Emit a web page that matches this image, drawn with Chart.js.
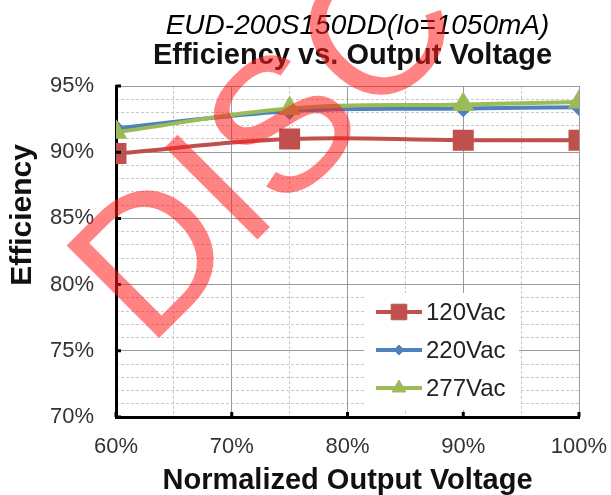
<!DOCTYPE html>
<html>
<head>
<meta charset="utf-8">
<script src="https://cdn.jsdelivr.net/npm/chart.js"></script>
<style>
  html, body { margin: 0; padding: 0; background: #fff; }
  #wrap { width: 611px; height: 495px; position: relative; }
</style>
</head>
<body>
<div id="wrap"><canvas id="chart"></canvas></div>
<script>
// --- data ---
const outputVoltage = [60, 75, 90, 100];          // % of rated output
const eff120 = [89.9, 91.0, 90.9, 90.9];
const eff220 = [91.8, 93.1, 93.3, 93.4];
const eff277 = [91.5, 93.3, 93.6, 93.8];
const seriesNames = ['120Vac', '220Vac', '277Vac'];
const titleLines = ['EUD-200S150DD(Io=1050mA)', 'Efficiency vs. Output Voltage'];
const xTitle = 'Normalized Output Voltage';
const yTitle = 'Efficiency';
const stamp = 'DISCONTINUED';

const FONT = "'Liberation Sans', Arial, sans-serif";

function pts(ys) {
    return outputVoltage.map((x, i) => ({ x: x, y: ys[i] }));
}

// chart title + axis titles
const titlePlugin = {
    id: 'titles',
    afterDraw(chart) {
        const { ctx, chartArea } = chart;
        const cx = (chartArea.left + chartArea.right) / 2;
        ctx.save();
        ctx.textAlign = 'center';
        ctx.textBaseline = 'middle';
        ctx.fillStyle = '#000';
        ctx.font = 'italic 28px ' + FONT;
        ctx.fillText(titleLines[0], cx + 10, 26);
        ctx.fillStyle = '#111';
        ctx.font = 'bold 29px ' + FONT;
        ctx.fillText(titleLines[1], cx + 5, 56);
        ctx.font = 'bold 29px ' + FONT;
        ctx.fillText(xTitle, cx, 481);
        ctx.translate(23, 215);
        ctx.rotate(-Math.PI / 2);
        ctx.font = 'bold 30px ' + FONT;
        ctx.fillText(yTitle, 0, 0);
        ctx.restore();
    }
};

// short black tick marks pointing into the plot at the major values
const innerTicks = {
    id: 'innerTicks',
    afterDatasetsDraw(chart) {
        const { ctx, chartArea, scales } = chart;
        ctx.save();
        ctx.strokeStyle = '#000';
        ctx.lineWidth = 3;
        ctx.beginPath();
        scales.x.ticks.forEach(t => {
            const px = scales.x.getPixelForValue(t.value);
            ctx.moveTo(px, chartArea.bottom);
            ctx.lineTo(px, chartArea.bottom - 5);
        });
        scales.y.ticks.forEach(t => {
            const py = scales.y.getPixelForValue(t.value);
            ctx.moveTo(chartArea.left, py);
            ctx.lineTo(chartArea.left + 5, py);
        });
        ctx.stroke();
        ctx.restore();
    }
};

// legend box inside the lower right of the plot
const legendPlugin = {
    id: 'insideLegend',
    afterDatasetsDraw(chart) {
        const { ctx, chartArea } = chart;
        const left = chartArea.right - 215;
        const top = chartArea.bottom - 124;
        ctx.save();
        ctx.fillStyle = '#fff';
        ctx.fillRect(left, top, 155, 117);
        ctx.font = '24px ' + FONT;
        ctx.textBaseline = 'middle';
        ctx.textAlign = 'left';
        seriesNames.forEach((name, i) => {
            const ds = chart.data.datasets.find(d => d.label === name);
            const y = top + 19 + i * 38;
            const x0 = left + 12, x1 = left + 58;
            ctx.strokeStyle = ds.borderColor;
            ctx.lineWidth = ds.borderWidth;
            ctx.beginPath();
            ctx.moveTo(x0, y);
            ctx.lineTo(x1, y);
            ctx.stroke();
            ctx.fillStyle = ds.pointBackgroundColor;
            ctx.lineWidth = 1;
            Chart.helpers.drawPoint(ctx, {
                pointStyle: ds.pointStyle,
                radius: ds.pointRadius - 1,
                rotation: 0,
                borderWidth: 1
            }, (x0 + x1) / 2, y);
            ctx.fillStyle = '#222';
            ctx.fillText(name, x1 + 4, y + 1);
        });
        ctx.restore();
    }
};

// the red stamp laid over the whole picture
const stampPlugin = {
    id: 'stamp',
    afterDraw(chart) {
        const { ctx } = chart;
        ctx.save();
        ctx.translate(148, 349);
        ctx.rotate(-Math.PI / 4);
        ctx.fillStyle = 'rgba(255, 30, 30, 0.55)';
        ctx.font = '190px ' + FONT;
        ctx.textBaseline = 'alphabetic';
        ctx.fillText(stamp, 0, 0);
        ctx.restore();
    }
};

new Chart(document.getElementById('chart'), {
    type: 'line',
    data: {
        datasets: [
            {
                label: seriesNames[0],
                data: pts(eff120),
                borderColor: '#C0504D',
                pointBackgroundColor: '#C0504D',
                borderWidth: 4,
                pointStyle: 'rect',
                pointRadius: 12,
                order: 2
            },
            {
                label: seriesNames[1],
                data: pts(eff220),
                borderColor: '#4F81BD',
                pointBackgroundColor: '#4F81BD',
                borderWidth: 4,
                pointStyle: 'rectRot',
                pointRadius: 6,
                order: 1
            },
            {
                label: seriesNames[2],
                data: pts(eff277),
                borderColor: '#9BBB59',
                pointBackgroundColor: '#9BBB59',
                borderWidth: 4,
                pointStyle: 'triangle',
                pointRadius: 9,
                order: 0
            }
        ]
    },
    options: {
        responsive: true,
        maintainAspectRatio: false,
        animation: false,
        layout: { padding: { top: 86, right: 32, left: 0, bottom: 0 } },
        plugins: {
            legend: { display: false },
            tooltip: { enabled: false }
        },
        elements: {
            line: { tension: 0.4 },
            point: { borderWidth: 1, hoverRadius: 12 }
        },
        scales: {
            xMinor: {
                type: 'linear',
                position: 'bottom',
                min: 60, max: 100,
                ticks: { stepSize: 5, display: false, padding: 0 },
                grid: { color: '#c8c8c8', lineWidth: 1, drawTicks: false },
                border: { display: false, dash: [3, 2] },
                afterFit(scale) { scale.height = 0; }
            },
            yMinor: {
                type: 'linear',
                position: 'left',
                min: 70, max: 95,
                ticks: { stepSize: 1, display: false, padding: 0 },
                grid: { color: '#c8c8c8', lineWidth: 1, drawTicks: false },
                border: { display: false, dash: [3, 2] },
                afterFit(scale) { scale.width = 0; }
            },
            x: {
                type: 'linear',
                position: 'bottom',
                min: 60, max: 100,
                ticks: {
                    stepSize: 10,
                    padding: 0,
                    color: '#333',
                    font: { family: FONT, size: 22 },
                    callback: v => v + '%'
                },
                // invisible tick marks push the labels down without widening the side margins
                grid: { color: '#9a9a9a', lineWidth: 1, drawTicks: true, tickLength: 17, tickColor: 'rgba(0,0,0,0)' },
                border: { color: '#000', width: 3 },
                afterFit(scale) { scale.height = 78; }
            },
            y: {
                type: 'linear',
                position: 'left',
                min: 70, max: 95,
                ticks: {
                    stepSize: 5,
                    padding: 22,
                    color: '#333',
                    font: { family: FONT, size: 22 },
                    callback: v => v + '%'
                },
                grid: { color: '#9a9a9a', lineWidth: 1, drawTicks: false },
                border: { color: '#000', width: 3 },
                afterFit(scale) { scale.width = 116; }
            }
        }
    },
    plugins: [titlePlugin, innerTicks, legendPlugin, stampPlugin]
});
</script>
</body>
</html>
